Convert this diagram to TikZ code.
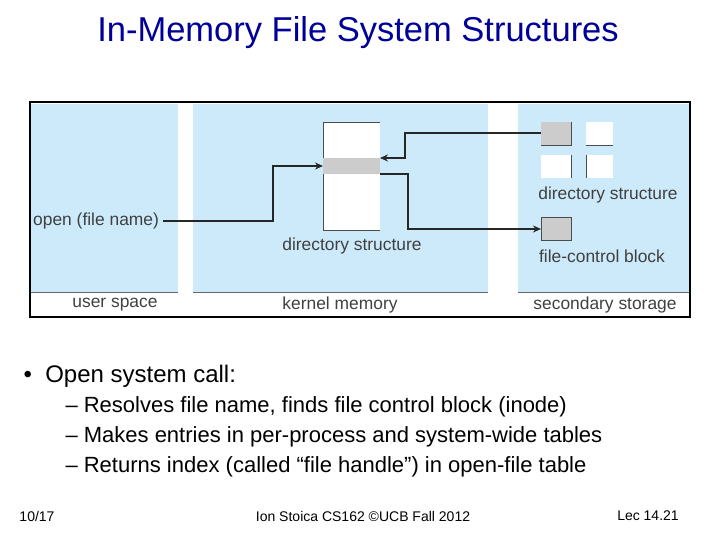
\documentclass[tikz,border=0pt]{standalone}
\usepackage{fontspec}
\setmainfont{Liberation Sans}
\begin{document}
\begin{tikzpicture}[x=1pt,y=-1pt,
  panel/.style={fill=blueP,draw=none},
  lbl/.style={font=\fontsize{17.4}{20}\selectfont,text=black!75,inner sep=0},
  conn/.style={line width=2.1pt,draw=black!85,-{Stealth[length=8pt,width=7pt]}},
  sq/.style={draw=black!70,line width=0.5pt}]
\usetikzlibrary{arrows.meta}
\definecolor{blueP}{RGB}{204,234,250}
\definecolor{titleB}{RGB}{0,0,153}
\useasboundingbox (0,0) rectangle (720,540);
\node[text=titleB,font=\fontsize{34.5}{40}\selectfont] (title) at (358,33) {In-Memory File System Structures};
% frame
\draw[line width=2.5pt] (30,102) rectangle (690,317);
\fill[panel] (31,104) rectangle (178,292);
\fill[panel] (193,104) rectangle (488,292);
\fill[panel] (518,104) rectangle (689,292);
\draw[line width=0.4pt,black!60] (31,292) -- (178,292) (193,292)--(488,292) (518,292)--(689,292);
\node[lbl] (us) at (115,305) {user space};
\node[lbl] (km) at (340,305) {kernel memory};
\node[lbl] (ss) at (605,305) {secondary storage};
% kernel directory column
\fill[white] (323,122) rectangle (380,230);
\draw[black!70,line width=0.5pt] (323,122) -- (380,122) (323,122)--(323,230)--(380,230);
\fill[black!20] (323,158) rectangle (380,174);
\coordinate (kin) at (323,166);
\coordinate (kouttop) at (380,158);
\coordinate (koutbot) at (380,174);
\node[lbl] (kds) at (352,246) {directory structure};
% secondary squares
\fill[black!20] (541,122) rectangle (571,145);
\fill[white] (586,122) rectangle (613,145);
\fill[white] (541,155) rectangle (571,178);
\fill[white] (586,155) rectangle (613,178);
\draw[black!70,line width=0.5pt] (541,145)--(571,145)--(571,122) (586,145)--(613,145) (571,155)--(571,178) (586,155)--(586,178);
\coordinate (sq1) at (541,133);
\node[lbl] (sds) at (608,195) {directory structure};
\fill[black!20,draw=black!70,line width=0.5pt] (541,217) rectangle (571,240);
\coordinate (fcb) at (541,229);
\node[lbl] (fcbl) at (602,256) {file-control block};
\node[lbl,anchor=west] (open) at (33,221) {open (file name)};
% connectors
\draw[conn] (open.east) ++(4,0) -- (273,221) -- (273,166) -- (kin);
\draw[conn] (sq1) -- (405,133) -- (405,158) -- (kouttop);
\draw[conn] (koutbot) -- (408,174) -- (408,229) -- (fcb);
% text
\node[anchor=west,font=\fontsize{24}{28}\selectfont] (b1) at (20,376) {\textbullet\ \ Open system call:};
\node[anchor=west,font=\fontsize{22}{26}\selectfont] (l1) at (62,407) {– Resolves file name, finds file control block (inode)};
\node[anchor=west,font=\fontsize{22}{26}\selectfont] (l2) at (62,437) {– Makes entries in per-process and system-wide tables};
\node[anchor=west,font=\fontsize{22}{26}\selectfont] (l3) at (62,467) {– Returns index (called “file handle”) in open-file table};
\node[font=\fontsize{14}{16}\selectfont] (f1) at (37,516) {10/17};
\node[font=\fontsize{14}{16}\selectfont] (f2) at (363,516) {Ion Stoica CS162 ©UCB Fall 2012};
\node[font=\fontsize{14}{16}\selectfont] (f3) at (648,516) {Lec 14.21};
\end{tikzpicture}
\end{document}
